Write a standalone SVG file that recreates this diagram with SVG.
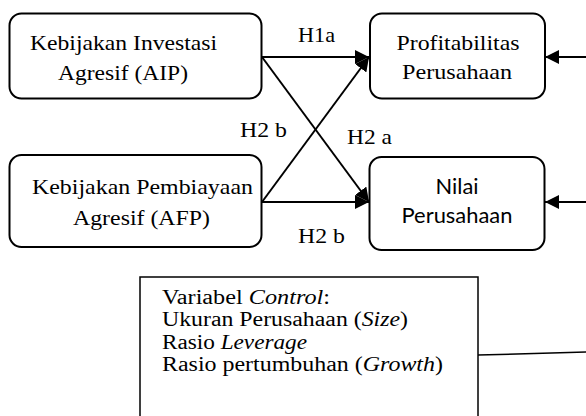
<svg xmlns="http://www.w3.org/2000/svg" width="586" height="416" viewBox="0 0 586 416">
<style>
.box{fill:#fff;stroke:#000;stroke-width:2}
.t{font-family:"Liberation Serif","Times New Roman",serif;font-size:22px;fill:#000}
.ct{font-family:"Liberation Serif","Times New Roman",serif;font-size:20px;fill:#000}
.s{font-family:Lato,"Liberation Sans",sans-serif;font-size:22px;fill:#000}
.m{text-anchor:middle}
.c{fill:none;stroke:#000;stroke-width:2}
.thin{fill:none;stroke:#000;stroke-width:1.5}
</style>
<defs>
<marker id="ah" viewBox="0 0 14 14" refX="14" refY="7" markerWidth="14" markerHeight="14" markerUnits="userSpaceOnUse" orient="auto">
<path d="M0,0 L14,7 L0,14 z" fill="#000"/>
</marker>
</defs>
<rect width="586" height="416" fill="#fff"/>
<g id="connectors">
<line class="c" x1="262" y1="57" x2="369" y2="57" marker-end="url(#ah)"/>
<line class="c" x1="262" y1="57" x2="369" y2="202" marker-end="url(#ah)"/>
<line class="c" x1="262" y1="202" x2="369" y2="57" marker-end="url(#ah)"/>
<line class="c" x1="262" y1="202" x2="369" y2="202" marker-end="url(#ah)"/>
<line class="c" x1="590" y1="57" x2="545" y2="57" marker-end="url(#ah)"/>
<line class="c" x1="590" y1="202" x2="545" y2="202" marker-end="url(#ah)"/>
<line class="thin" x1="478" y1="355" x2="590" y2="352"/>
<text class="t" x="298" y="42" textLength="37" lengthAdjust="spacingAndGlyphs">H1a</text>
<text class="t" x="240" y="137" textLength="47" lengthAdjust="spacingAndGlyphs">H2 b</text>
<text class="t" x="347" y="144" textLength="45" lengthAdjust="spacingAndGlyphs">H2 a</text>
<text class="t" x="298" y="243" textLength="47" lengthAdjust="spacingAndGlyphs">H2 b</text>
</g>
<g id="aip">
<rect class="box" x="9.5" y="13.5" width="252" height="85" rx="12"/>
<text class="t m" x="123.5" y="50" textLength="187" lengthAdjust="spacingAndGlyphs">Kebijakan Investasi</text>
<text class="t m" x="123" y="80" textLength="130" lengthAdjust="spacingAndGlyphs">Agresif (AIP)</text>
</g>
<g id="afp">
<rect class="box" x="9.5" y="155" width="252" height="92" rx="12"/>
<text class="t m" x="142.5" y="194" textLength="221" lengthAdjust="spacingAndGlyphs">Kebijakan Pembiayaan</text>
<text class="t m" x="141.5" y="225" textLength="137" lengthAdjust="spacingAndGlyphs">Agresif (AFP)</text>
</g>
<g id="profitabilitas">
<rect class="box" x="370" y="13.5" width="175" height="85" rx="12"/>
<text class="t m" x="458" y="50" textLength="123" lengthAdjust="spacingAndGlyphs">Profitabilitas</text>
<text class="t m" x="457" y="79" textLength="110" lengthAdjust="spacingAndGlyphs">Perusahaan</text>
</g>
<g id="nilai">
<rect class="box" x="369.5" y="157" width="175" height="93" rx="12"/>
<text class="s m" x="457" y="194" textLength="43" lengthAdjust="spacingAndGlyphs">Nilai</text>
<text class="s m" x="457" y="223" textLength="111" lengthAdjust="spacingAndGlyphs">Perusahaan</text>
</g>
<g id="control">
<rect fill="#fff" stroke="#000" stroke-width="1.5" x="140" y="277" width="338" height="160"/>
<text class="ct" x="162" y="304" textLength="168" lengthAdjust="spacingAndGlyphs">Variabel <tspan font-style="italic">Control</tspan>:</text>
<text class="ct" x="162" y="326.4" textLength="246" lengthAdjust="spacingAndGlyphs">Ukuran Perusahaan (<tspan font-style="italic">Size</tspan>)</text>
<text class="ct" x="162" y="348.8" textLength="145" lengthAdjust="spacingAndGlyphs">Rasio <tspan font-style="italic">Leverage</tspan></text>
<text class="ct" x="162" y="371.2" textLength="281" lengthAdjust="spacingAndGlyphs">Rasio pertumbuhan (<tspan font-style="italic">Growth</tspan>)</text>
</g>
</svg>
